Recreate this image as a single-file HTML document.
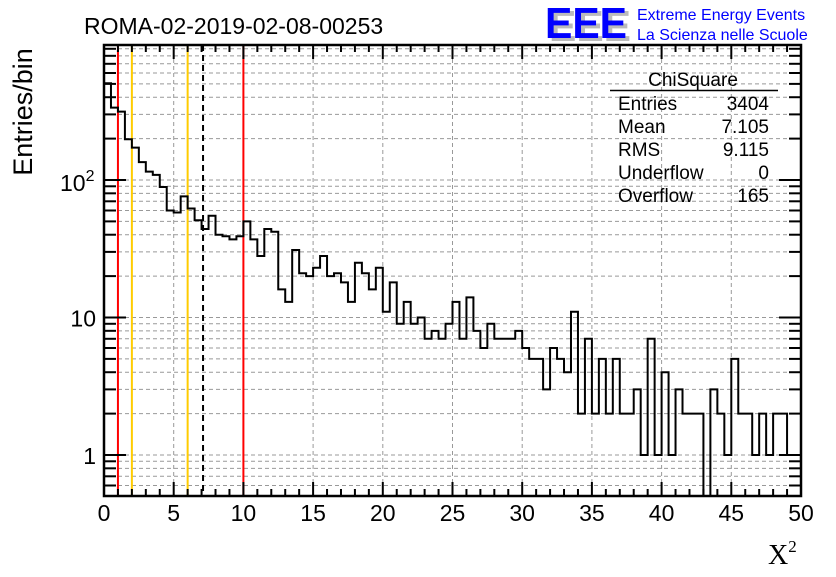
<!DOCTYPE html>
<html><head><meta charset="utf-8"><style>
body{margin:0;background:#fff;}
svg text{font-family:"Liberation Sans",sans-serif;}
</style></head><body>
<svg id="c" width="836" height="572" xmlns="http://www.w3.org/2000/svg">
<rect width="836" height="572" fill="#fff"/>
<g id="grid"></g>
<g id="lines"></g>
<path id="hist" fill="none" stroke="#000" stroke-width="2"/>
<g id="axes"></g>
<text x="84" y="34" font-size="23">ROMA-02-2019-02-08-00253</text>
<g>
<text x="549" y="41" font-size="44" font-weight="bold" fill="#bbb" textLength="82" lengthAdjust="spacingAndGlyphs">EEE</text>
<text x="545" y="38" font-size="44" font-weight="bold" fill="#0000ff" textLength="82" lengthAdjust="spacingAndGlyphs">EEE</text>
<text x="637" y="20" font-size="16" fill="#0000ff">Extreme Energy Events</text>
<text x="637" y="40" font-size="16" fill="#0000ff">La Scienza nelle Scuole</text>
</g>
<g font-size="19">
<text x="693" y="86" text-anchor="middle">ChiSquare</text>
<line x1="610" y1="90.5" x2="778" y2="90.5" stroke="#000" stroke-width="1.5"/>
<text x="618" y="110">Entries</text><text x="769" y="110" text-anchor="end">3404</text>
<text x="618" y="133">Mean</text><text x="769" y="133" text-anchor="end">7.105</text>
<text x="618" y="156">RMS</text><text x="769" y="156" text-anchor="end">9.115</text>
<text x="618" y="179">Underflow</text><text x="769" y="179" text-anchor="end">0</text>
<text x="618" y="202">Overflow</text><text x="769" y="202" text-anchor="end">165</text>
</g>
<text transform="translate(32,112) rotate(-90)" text-anchor="middle" font-size="27">Entries/bin</text>
<text x="768" y="564" font-size="28" style="font-family:'Liberation Serif',serif">X<tspan font-size="17" dy="-12">2</tspan></text>
</svg>
<script>
const counts=[505,336,314,198,172,135,115,109,89,60,58,76,62,51,44,55,40,39,37,39,50,37,28,44,42,16,13,31,21,20,23,28,20,21,18,13,25,21,16,23,11,18,9,13,9,10,7,8,7,9,13,7,14,8,6,9,7,7,7,8,6,5,5,3,6,5,4,11,2,7,2,5,2,5,2,2,3,1,7,1,4,1,3,2,2,2,0,3,2,1,5,2,2,1,2,1,2,2,1,1];
const binWidth=0.5;
const xTicks=[0,5,10,15,20,25,30,35,40,45,50];
const refLines=[1,2,6,7.105,10];
const refColors=["#ff0000","#ffcc00","#ffcc00","#000","#ff0000"];
const NS="http://www.w3.org/2000/svg";
const X0=104,X1=801,Y0=45,Y1=496;
const xs=v=>X0+(v-0)/(50-0)*(X1-X0);
const ys=v=>v<=0.5?Y1:Math.max(Y0,455-137.5*Math.log10(v));
function mk(tag,attrs,parent){const e=document.createElementNS(NS,tag);for(const k in attrs)e.setAttribute(k,attrs[k]);parent.appendChild(e);return e;}
const grid=document.getElementById('grid'),axes=document.getElementById('axes'),lines=document.getElementById('lines');
const yMinor=[];
for(const d of [0.1,1,10,100]){for(let m=1;m<10;m++){const v=m*d;if(v>=0.5&&ys(v)>Y0&&ys(v)<Y1)yMinor.push(v);}}
yMinor.forEach(v=>{const l=mk('line',{x1:X0,x2:X1,y1:ys(v),y2:ys(v),stroke:'#999','stroke-dasharray':'4,3','stroke-width':1},grid);

});
xTicks.slice(1,-1).forEach(v=>{const l=mk('line',{x1:xs(v),x2:xs(v),y1:Y0,y2:Y1,stroke:'#999','stroke-dasharray':'4,3','stroke-width':1},grid);

});
refLines.forEach((v,i)=>{const l=mk('line',{x1:xs(v),x2:xs(v),y1:Y0,y2:Y1,stroke:refColors[i],'stroke-width':2},lines);
if(refColors[i]==="#000")l.setAttribute('stroke-dasharray','6,4');

});
let d='';
counts.forEach((c,i)=>{const xa=xs(i*binWidth),xb=xs((i+1)*binWidth),y=ys(c);
d+=(i===0?`M${xa},${y}`:`L${xa},${y}`)+`L${xb},${y}`;});
d+=`L${xs(counts.length*binWidth)},${Y1}`;
document.getElementById('hist').setAttribute('d',d);
mk('rect',{x:X0,y:Y0,width:X1-X0,height:Y1-Y0,fill:'none',stroke:'#000','stroke-width':2.5},axes);
for(let v=0;v<=50;v++){const maj=v%5===0,L=maj?14:7;
mk('line',{x1:xs(v),x2:xs(v),y1:Y1,y2:Y1-L,stroke:'#000','stroke-width':2},axes);
mk('line',{x1:xs(v),x2:xs(v),y1:Y0,y2:Y0+L,stroke:'#000','stroke-width':2},axes);}
xTicks.forEach(v=>{const t=mk('text',{x:xs(v),y:521,'text-anchor':'middle','font-size':23},axes);t.textContent=v;

});
yMinor.forEach(v=>{const maj=[1,10,100].includes(v),L=maj?22:12;
mk('line',{x1:X0,x2:X0+L,y1:ys(v),y2:ys(v),stroke:'#000','stroke-width':2},axes);
mk('line',{x1:X1,x2:X1-L,y1:ys(v),y2:ys(v),stroke:'#000','stroke-width':2},axes);});
const yLabels=[[1,"1"],[10,"10"]];
yLabels.forEach(([v,s])=>{const t=mk('text',{x:96,y:ys(v)+9,'text-anchor':'end','font-size':23},axes);t.textContent=s;

});
const t2=mk('text',{x:60,y:ys(100)+11,'font-size':23},axes);t2.innerHTML='10<tspan font-size="16" dy="-10">2</tspan>';


</script>
</body></html>
